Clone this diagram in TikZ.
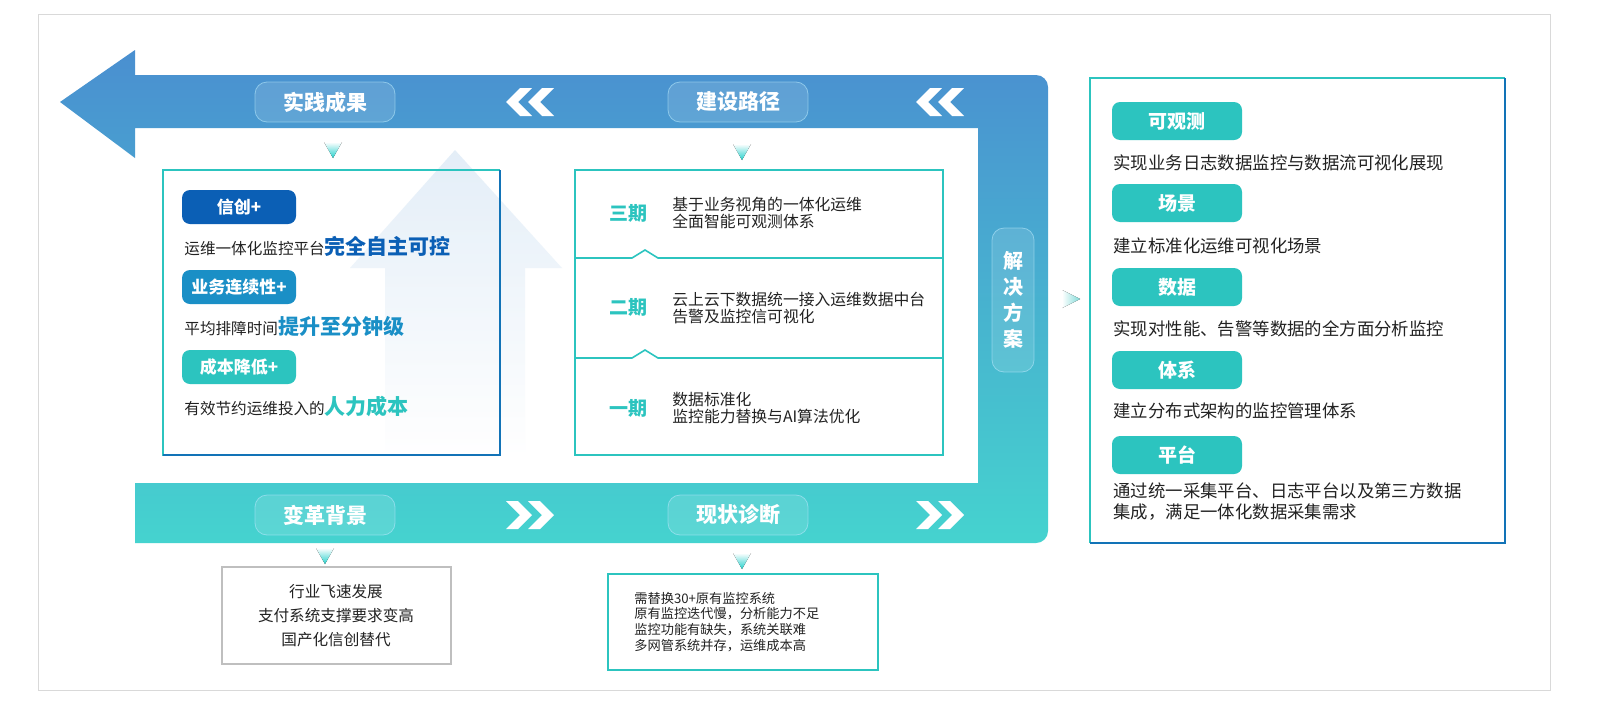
\documentclass[tikz,border=0pt]{standalone}
\usepackage{fontspec}
\setmainfont{Noto Sans CJK SC}
\usetikzlibrary{calc}
\definecolor{bandblue}{HTML}{4A8FD0}
\definecolor{bandmid}{HTML}{4AA8D4}
\definecolor{bandteal}{HTML}{45D3CF}
\definecolor{teal}{HTML}{2CC4BF}
\definecolor{dblue}{HTML}{0B5FB5}
\definecolor{mblue}{HTML}{1A8FC6}
\definecolor{txt}{HTML}{222222}
\tikzset{
  pill/.style={draw=white!70!cyan,draw opacity=0.6,fill=white,fill opacity=0.12,text opacity=1,rounded corners=6pt,minimum width=70pt,minimum height=20pt,text=white,font=\fontsize{10.5}{11}\selectfont\bfseries},
  tag/.style={rounded corners=4pt,minimum width=57pt,minimum height=17pt,text=white,font=\fontsize{8.5}{9}\selectfont\bfseries,inner sep=0pt},
  body/.style={text=txt,font=\fontsize{7.8}{9.5}\selectfont,anchor=west,inner sep=0pt,align=left},
  rbody/.style={body,font=\fontsize{8.7}{10.5}\selectfont},
  small/.style={text=txt,font=\fontsize{6.6}{8}\selectfont,anchor=west,inner sep=0pt,align=left},
  phase/.style={text=teal,font=\fontsize{9.5}{10}\selectfont\bfseries},
  chev/.style={fill=white,draw=none},
  tri/.style={top color=white,bottom color=teal!80!cyan,draw=none},
  trir/.style={left color=white,right color=teal!60,draw=none}
}
\begin{document}
\begin{tikzpicture}[x=0.5pt,y=-0.5pt]
\fill[white] (0,0) rectangle (1600,723);
\draw[black!15] (38,14) rectangle (1550,690);
% frame
\shade[top color=bandblue,middle color=bandmid,bottom color=bandteal]
 (60,102) -- (135,50) -- (135,75) [rounded corners=6pt] -- (1048,75) -- (1048,543) [sharp corners] -- (135,543) -- (135,483) -- (978,483) -- (978,128) -- (135,128) -- (135,158) -- cycle;
% faint up arrow
\shade[top color=bandblue!25,bottom color=white,opacity=0.6] (455,150) -- (562,268) -- (525,268) -- (525,455) -- (385,455) -- (385,268) -- (350,268) -- cycle;
% pills
\node[pill] (p1) at (325,102) {实践成果};
\node[pill] (p2) at (738,102) {建设路径};
\node[pill] (p3) at (325,515) {变革背景};
\node[pill] (p4) at (738,515) {现状诊断};
\node[pill,minimum width=21pt,minimum height=72pt,align=center,font=\fontsize{10}{13}\selectfont\bfseries] (p5) at (1013,300) {解\\决\\方\\案};
% chevrons
\foreach \c in {530,940}{
 \foreach \o in {-24,-2}{
  \fill[chev] ({\c+\o},102) -- ({\c+\o+14},88) -- ({\c+\o+26},88) -- ({\c+\o+12},102) -- ({\c+\o+26},116) -- ({\c+\o+14},116) -- cycle;
  \fill[chev] ({\c-\o},515) -- ({\c-\o-14},501) -- ({\c-\o-26},501) -- ({\c-\o-12},515) -- ({\c-\o-26},529) -- ({\c-\o-14},529) -- cycle;
 }}
% small triangles
\foreach \x/\y in {333/142,742/144,325/548,742/553}{
 \fill[tri] (\x-9,\y) -- (\x+9,\y) -- (\x,\y+16) -- cycle;}
\fill[trir] (1062,290) -- (1080,299) -- (1062,308) -- cycle;
% left box
\draw[line width=1.4pt,teal] (500,455) -- (163,455) -- (163,170) -- (500,170);
\draw[line width=1.4pt,dblue!80!teal] (500,170) -- (500,455) -- (163,455);
\node[tag,fill=dblue] (t1) at (239,207) {信创+};
\node[body] (b1) at (184,246) {运维一体化监控平台{\fontsize{10.5}{11}\selectfont\bfseries\color{dblue}完全自主可控}};
\node[tag,fill=mblue] (t2) at (239,287) {业务连续性+};
\node[body] (b2) at (184,326) {平均排障时间{\fontsize{10.5}{11}\selectfont\bfseries\color{mblue}提升至分钟级}};
\node[tag,fill=teal] (t3) at (239,367) {成本降低+};
\node[body] (b3) at (184,406) {有效节约运维投入的{\fontsize{10.5}{11}\selectfont\bfseries\color{teal}人力成本}};
% middle box
\draw[teal,line width=0.8pt] (575,170) rectangle (943,455);
\draw[teal,line width=0.8pt] (575,258) -- (632,258) -- (645,250) -- (658,258) -- (943,258);
\draw[teal,line width=0.8pt] (575,358) -- (632,358) -- (645,350) -- (658,358) -- (943,358);
\node[phase] (ph3) at (628,213) {三期};
\node[body,font=\fontsize{7.9}{8.8}\selectfont] (d3) at (672,213) {基于业务视角的一体化运维\\全面智能可观测体系};
\node[phase] (ph2) at (628,307) {二期};
\node[body,font=\fontsize{7.9}{8.8}\selectfont] (d2) at (672,308) {云上云下数据统一接入运维数据中台\\告警及监控信可视化};
\node[phase] (ph1) at (628,408) {一期};
\node[body,font=\fontsize{7.9}{8.8}\selectfont] (d1) at (672,408) {数据标准化\\监控能力替换与AI算法优化};
% bottom boxes
\draw[black!25,line width=0.8pt] (222,567) rectangle (451,664);
\node[body,anchor=center,align=center,font=\fontsize{7.8}{12}\selectfont] (bg) at (336,616) {行业飞速发展\\支付系统支撑要求变高\\国产化信创替代};
\draw[teal,line width=0.8pt] (608,574) rectangle (878,670);
\node[small,font=\fontsize{6.6}{7.9}\selectfont] (zd) at (634,622) {需替换30+原有监控系统\\原有监控迭代慢，分析能力不足\\监控功能有缺失，系统关联难\\多网管系统并存，运维成本高};
% right box
\draw[line width=1.4pt,teal] (1505,78) -- (1090,78) -- (1090,543);
\draw[line width=1.4pt,dblue!80!teal] (1505,78) -- (1505,543) -- (1090,543);
\foreach \n/\y/\t in {r1/121/可观测,r2/203/场景,r3/287/数据,r4/370/体系,r5/455/平台}{
 \node[tag,fill=teal,minimum width=65pt,minimum height=19pt,font=\fontsize{9.5}{10}\selectfont\bfseries] (\n) at (1177,\y) {\t};}
\node[rbody] (s1) at (1113,163) {实现业务日志数据监控与数据流可视化展现};
\node[rbody] (s2) at (1113,246) {建立标准化运维可视化场景};
\node[rbody] (s3) at (1113,329) {实现对性能、告警等数据的全方面分析监控};
\node[rbody] (s4) at (1113,411) {建立分布式架构的监控管理体系};
\node[rbody] (s5) at (1113,502) {通过统一采集平台、日志平台以及第三方数据\\集成，满足一体化数据采集需求};
\pgfresetboundingbox
\useasboundingbox (0,0) rectangle (1600,723);
\end{tikzpicture}
\end{document}
